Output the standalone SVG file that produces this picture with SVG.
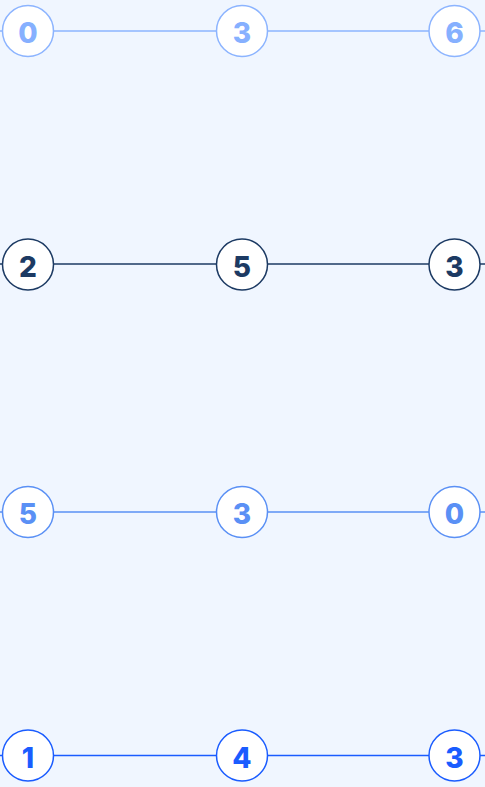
<svg xmlns="http://www.w3.org/2000/svg" width="485" height="787" viewBox="0 0 485 787">
<style>
.n circle{fill:#ffffff;stroke-width:1.5}
.n text{font-family:Inter,"Open Sans",sans-serif;font-weight:800;font-size:28px;text-anchor:middle;dominant-baseline:central}
.r1 circle{stroke:#8cb4ff}.r1 text{fill:#86b0ff}
.r2 circle{stroke:#1c3a63}.r2 text{fill:#1c3a63}
.r3 circle{stroke:#5a90f5}.r3 text{fill:#5a90f5}
.r4 circle{stroke:#1a5cff}.r4 text{fill:#1a5cff}
line{stroke-width:1.5}
</style>
<rect width="485" height="787" fill="#f0f6ff"/>
<g id="connectors">
<line x1="0" y1="31" x2="485" y2="31" stroke="#8cb4ff"/>
<line x1="0" y1="264" x2="485" y2="264" stroke="#1c3a63"/>
<line x1="0" y1="512" x2="485" y2="512" stroke="#5a90f5"/>
<line x1="0" y1="755.5" x2="485" y2="755.5" stroke="#1a5cff"/>
</g>
<g id="n1" class="n r1"><circle cx="28" cy="31" r="25.5"/><text x="28" y="33">0</text></g>
<g id="n2" class="n r1"><circle cx="242" cy="31" r="25.5"/><text x="242" y="33">3</text></g>
<g id="n3" class="n r1"><circle cx="454.5" cy="31" r="25.5"/><text x="454.5" y="33">6</text></g>
<g id="n4" class="n r2"><circle cx="28" cy="264.5" r="25.5"/><text x="28" y="266.5">2</text></g>
<g id="n5" class="n r2"><circle cx="242" cy="264.5" r="25.5"/><text x="242" y="266.5">5</text></g>
<g id="n6" class="n r2"><circle cx="454.5" cy="264.5" r="25.5"/><text x="454.5" y="266.5">3</text></g>
<g id="n7" class="n r3"><circle cx="28" cy="512" r="25.5"/><text x="28" y="514">5</text></g>
<g id="n8" class="n r3"><circle cx="242" cy="512" r="25.5"/><text x="242" y="514">3</text></g>
<g id="n9" class="n r3"><circle cx="454.5" cy="512" r="25.5"/><text x="454.5" y="514">0</text></g>
<g id="n10" class="n r4"><circle cx="28" cy="755.5" r="25.5"/><text x="28" y="757.5">1</text></g>
<g id="n11" class="n r4"><circle cx="242" cy="755.5" r="25.5"/><text x="242" y="757.5">4</text></g>
<g id="n12" class="n r4"><circle cx="454.5" cy="755.5" r="25.5"/><text x="454.5" y="757.5">3</text></g>
</svg>
